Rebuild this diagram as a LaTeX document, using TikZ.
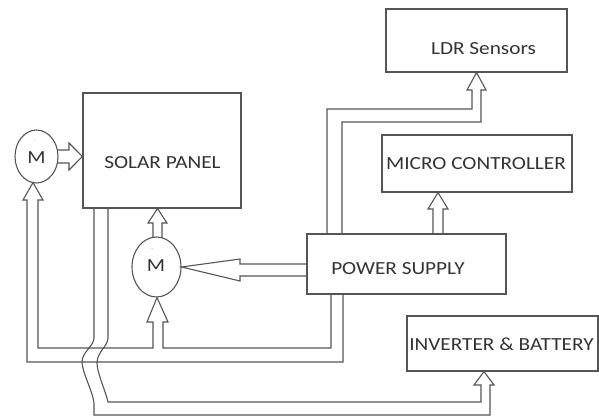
\documentclass[tikz,border=0pt]{standalone}
\usepackage{fontspec}
\setmainfont{Carlito}
\newfontfamily\lblfont[FakeStretch=1.15]{Carlito}
\usetikzlibrary{shapes.geometric}
\definecolor{linec}{HTML}{555555}
\definecolor{textc}{HTML}{333333}
\tikzset{
  boxnode/.style={draw=linec, line width=1.1pt, inner sep=0pt, rectangle},
  lbl/.style={font=\lblfont\fontsize{18.5}{20}\selectfont, text=textc, inner sep=0pt},
  motor/.style={draw=linec, line width=1.1pt, ellipse, inner sep=0pt},
  dots/.style={font=\fontsize{6}{6}\selectfont, text=linec!60, inner sep=0pt},
  conn/.style={draw=linec, line width=1.1pt, line join=miter},
}
\begin{document}
\begin{tikzpicture}[x=1pt,y=-1pt]
\useasboundingbox (0,0) rectangle (599,419);
% boxes
\node[boxnode, minimum width=181pt, minimum height=63pt] (ldr) at (476.5,40.5) {};
\node[boxnode, minimum width=190pt, minimum height=57pt] (mc) at (477,163.5) {};
\node[boxnode, minimum width=199pt, minimum height=60pt] (ps) at (406.5,264) {};
\node[boxnode, minimum width=191pt, minimum height=55pt] (inv) at (502.5,343.5) {};
\node[boxnode, minimum width=158pt, minimum height=115pt] (sp) at (162,150.5) {};
% motors
\node[motor, minimum width=43pt, minimum height=53pt] (m1) at (36.5,156.5) {};
\node[motor, minimum width=49pt, minimum height=60pt] (m2) at (156.5,267) {};
% labels
\node[lbl] (ldrt) at (483.5,49) {LDR Sensors};
\node[lbl] (mct) at (476,163.3) {MICRO CONTROLLER};
\node[lbl] (pst) at (398,269) {POWER SUPPLY};
\node[lbl] (invt) at (501.5,344) {INVERTER \& BATTERY};
\node[lbl] (spt) at (162.5,162.5) {SOLAR PANEL};
\node[lbl] (m1t) at (36.5,157.5) {M};
\node[lbl] (m2t) at (156,266) {M};
\node[dots] (m1d) at (35,140) {..};
\node[dots] (m2d) at (152,249) {..};
% M1 -> solar panel
\draw[conn] (57.3,150) -- (69,150) -- (69,143) -- (sp.west |- 0,156.5) -- (69,170) -- (69,163) -- (57.3,163);
% M2 -> solar panel
\draw[conn] (153,237.6) -- (153,223) -- (148,223) -- (157.5,0 |- sp.south) -- (167,223) -- (162,223) -- (162,237.6);
% power supply -> M2
\draw[conn] (ps.west |- 0,264) -- (240,264) -- (240,259) -- (m2.east) -- (240,281) -- (240,276) -- (ps.west |- 0,276);
% power supply -> micro controller
\draw[conn] (433,0 |- ps.north) -- (433,209) -- (428,209) -- (438,0 |- mc.south) -- (448,209) -- (443,209) -- (443,0 |- ps.north);
% power supply -> LDR
\draw[conn] (327,0 |- ps.north) -- (327,109) -- (472,109) -- (472,90) -- (467,90) -- (476.5,0 |- ldr.south)
  -- (486,90) -- (481,90) -- (481,122) -- (342,122) -- (342,0 |- ps.north);
% power supply -> M2 and M1
\draw[conn] (343,0 |- ps.south) -- (343,362) -- (27,362) -- (27,200) -- (23,200) -- (33,182.6)
  -- (43,200) -- (38,200) -- (38,348) -- (153,348) -- (153,322) -- (147,322) -- (157,0 |- m2.south)
  -- (168,322) -- (163,322) -- (163,348) -- (331,348) -- (331,0 |- ps.south);
% solar panel -> inverter & battery
\draw[conn] (94,0 |- sp.south) -- (94,338) .. controls (94,346) and (82,352) .. (82,362)
  .. controls (82,372) and (93,392) .. (94,403) -- (94,415) -- (490,415) -- (490,385) -- (494,385)
  -- (484,0 |- inv.south) -- (474,385) -- (481,385) -- (481,402) -- (108,402)
  .. controls (106,392) and (97,373) .. (97,363) .. controls (97,352) and (108,346) .. (108,338)
  -- (108,0 |- sp.south);
\end{tikzpicture}
\end{document}
